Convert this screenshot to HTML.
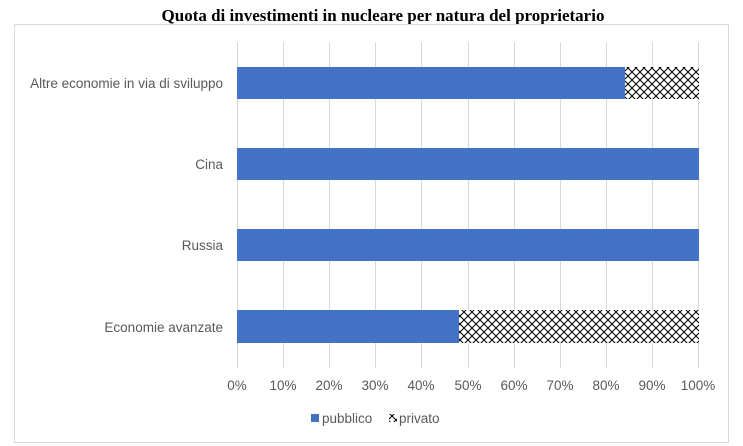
<!DOCTYPE html>
<html><head><meta charset="utf-8"><style>
html,body{margin:0;padding:0;background:#fff;width:743px;height:446px;overflow:hidden}
</style></head><body>
<svg width="743" height="446" xmlns="http://www.w3.org/2000/svg" font-family="Liberation Sans, sans-serif">
<defs>
<pattern id="h" width="8" height="8" patternUnits="userSpaceOnUse">
<rect width="8" height="8" fill="#fff"/>
<path d="M0,0 L8,8 M8,0 L0,8" stroke="#000" stroke-width="1"/>
</pattern>
</defs>
<text x="383" y="21" text-anchor="middle" font-family="Liberation Serif, serif" font-weight="bold" font-size="17">Quota di investimenti in nucleare per natura del proprietario</text>
<rect x="14.5" y="24.5" width="714" height="418" fill="none" stroke="#d9d9d9"/>
<g stroke="#d9d9d9" stroke-width="1">
<line x1="237.5" y1="42" x2="237.5" y2="368"/><line x1="283.5" y1="42" x2="283.5" y2="368"/>
<line x1="329.5" y1="42" x2="329.5" y2="368"/><line x1="375.5" y1="42" x2="375.5" y2="368"/>
<line x1="421.5" y1="42" x2="421.5" y2="368"/><line x1="468.5" y1="42" x2="468.5" y2="368"/>
<line x1="514.5" y1="42" x2="514.5" y2="368"/><line x1="560.5" y1="42" x2="560.5" y2="368"/>
<line x1="606.5" y1="42" x2="606.5" y2="368"/><line x1="652.5" y1="42" x2="652.5" y2="368"/>
<line x1="698.5" y1="42" x2="698.5" y2="368"/>
</g>
<rect x="237" y="67" width="388" height="32" fill="#4472c4"/>
<rect x="625" y="67" width="74" height="32" fill="url(#h)"/>
<rect x="237" y="148" width="462" height="32" fill="#4472c4"/>
<rect x="237" y="229" width="462" height="32" fill="#4472c4"/>
<rect x="237" y="310" width="222" height="33" fill="#4472c4"/>
<rect x="459" y="310" width="240" height="33" fill="url(#h)"/>
<g font-size="13.5" fill="#595959" text-anchor="end">
<text x="223" y="88">Altre economie in via di sviluppo</text>
<text x="223" y="169">Cina</text>
<text x="223" y="250">Russia</text>
<text x="223" y="332">Economie avanzate</text>
</g>
<g font-size="13.5" fill="#595959" text-anchor="middle">
<text x="237" y="390">0%</text><text x="283" y="390">10%</text><text x="329" y="390">20%</text>
<text x="375" y="390">30%</text><text x="421" y="390">40%</text><text x="468" y="390">50%</text>
<text x="514" y="390">60%</text><text x="560" y="390">70%</text><text x="606" y="390">80%</text>
<text x="652" y="390">90%</text><text x="698" y="390">100%</text>
</g>
<rect x="311" y="414" width="8" height="8" fill="#4472c4"/>
<text x="322" y="423" font-size="13.5" fill="#595959">pubblico</text>
<rect x="389" y="414" width="8" height="8" fill="url(#h)"/>
<text x="399" y="423" font-size="13.5" fill="#595959">privato</text>
</svg>
</body></html>
